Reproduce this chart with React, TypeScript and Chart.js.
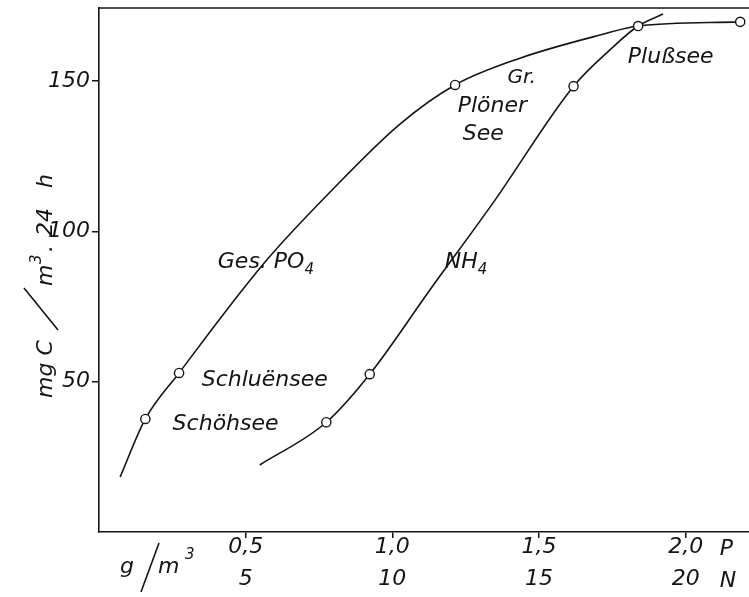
import React, { useEffect, useRef } from 'react';
import { Chart, registerables } from 'chart.js';
Chart.register(...registerables);

const INK = '#141414';
const FAM = '"DejaVu Sans", "Liberation Sans", sans-serif';

// ---- axis ticks ----
const yTickValues = [50, 100, 150];
const xTickValues = [0.5, 1.0, 1.5, 2.0];
const xTickLabelsP = ['0,5', '1,0', '1,5', '2,0'];
const xTickLabelsN = ['5', '10', '15', '20'];

// ---- measured lakes (g/m3 P resp. N/10 ; mg C / m3 . 24 h) ----
const lakes = ['Schöhsee', 'Schluënsee', 'Gr. Plöner See', 'Plußsee'];
const po4Conc = [0.158, 0.273, 1.214, 2.186];
const po4Prod = [37.6, 52.9, 148.7, 169.7];
const nh4Conc = [0.775, 0.923, 1.618, 1.838];
const nh4Prod = [36.5, 52.5, 148.3, 168.3];

// ---- hand-drawn curves ----
const po4CurveX = [0.072, 0.158, 0.273, 0.566, 0.788, 1.026, 1.214, 1.435, 1.708, 1.838, 2.186];
const po4CurveY = [18.3, 37.6, 52.9, 89.8, 113.1, 135.7, 148.7, 157.6, 165.3, 168.3, 169.7];
const nh4CurveX = [0.548, 0.775, 0.923, 1.128, 1.35, 1.618, 1.741, 1.838, 1.923];
const nh4CurveY = [22.3, 36.5, 52.5, 80.5, 110.4, 148.3, 160.3, 168.3, 172.3];

const pts = (xs: number[], ys: number[]) => xs.map((x, i) => ({ x, y: ys[i] }));

const font = (size: number) => `italic ${size}px ${FAM}`;

const figurePlugin = {
  id: 'figure',
  afterDraw(chart: any) {
    const { ctx, chartArea, scales } = chart;
    const xs = scales.x;
    const ys = scales.y;
    const px = (v: number) => xs.getPixelForValue(v);
    const py = (v: number) => ys.getPixelForValue(v);
    ctx.save();
    ctx.strokeStyle = INK;
    ctx.fillStyle = INK;
    ctx.lineWidth = 1.6;
    // top frame line
    ctx.beginPath();
    ctx.moveTo(chartArea.left, chartArea.top);
    ctx.lineTo(chartArea.right, chartArea.top);
    ctx.stroke();

    ctx.textBaseline = 'alphabetic';
    ctx.textAlign = 'left';
    // lake labels (anchor = left/baseline in data coords)
    const lab = (t: string, x: number, y: number, size = 22) => {
      ctx.font = font(size);
      ctx.fillText(t, px(x), py(y));
    };
    lab(lakes[0], 0.251, 33.9);
    lab(lakes[1], 0.35, 48.6);
    lab('Gr.', 1.393, 149.3, 20);
    lab('Plöner', 1.223, 139.7);
    lab('See', 1.24, 130.4);
    lab(lakes[3], 1.803, 156.0);

    // series labels with subscripts
    const sub = (main: string, s: string, x: number, y: number) => {
      ctx.font = font(22);
      const X = px(x), Y = py(y);
      ctx.fillText(main, X, Y);
      const w = ctx.measureText(main).width;
      ctx.font = font(15);
      ctx.fillText(s, X + w, Y + 6);
    };
    sub('Ges. PO', '4', 0.405, 87.8);
    sub('NH', '4', 1.179, 87.8);

    // x-axis unit annotations
    const row1 = chartArea.bottom + 17;
    const row2 = row1 + 32;
    ctx.font = font(22);
    ctx.textBaseline = 'middle';
    ctx.fillText('P', px(2.0) + 34, row1);
    ctx.fillText('N', px(2.0) + 34, row2);
    // g / m3
    ctx.textBaseline = 'alphabetic';
    ctx.fillText('g', 120, 573);
    ctx.beginPath();
    ctx.moveTo(141, 592);
    ctx.lineTo(159, 543);
    ctx.stroke();
    ctx.fillText('m', 158, 573);
    ctx.font = font(15);
    ctx.fillText('3', 185, 559);

    // y-axis title, rotated
    ctx.save();
    ctx.translate(52, 398);
    ctx.rotate(-Math.PI / 2);
    ctx.font = font(22);
    ctx.fillText('mg C', 0, 0);
    ctx.beginPath();
    ctx.moveTo(68, 6);
    ctx.lineTo(110, -28);
    ctx.stroke();
    ctx.fillText('m', 112, 0);
    ctx.font = font(15);
    ctx.fillText('3', 134, -11);
    ctx.font = font(22);
    ctx.fillText('.', 146, 0);
    ctx.fillText('24', 162, 0);
    ctx.fillText('h', 210, 0);
    ctx.restore();

    ctx.restore();
  },
};

const zeroPad = (s: any) => {
  s.paddingTop = 0;
  s.paddingBottom = 0;
  s.paddingLeft = 0;
  s.paddingRight = 0;
};

export default function App() {
  const ref = useRef<HTMLCanvasElement>(null);
  useEffect(() => {
    const chart = new Chart(ref.current!, {
      type: 'scatter',
      data: {
        datasets: [
          {
            label: 'Ges. PO4 points',
            data: pts(po4Conc, po4Prod),
            pointRadius: 4.6,
            pointBackgroundColor: '#ffffff',
            pointBorderColor: INK,
            pointBorderWidth: 1.4,
            showLine: false,
            clip: false,
            order: 1,
          },
          {
            label: 'NH4 points',
            data: pts(nh4Conc, nh4Prod),
            pointRadius: 4.6,
            pointBackgroundColor: '#ffffff',
            pointBorderColor: INK,
            pointBorderWidth: 1.4,
            showLine: false,
            clip: false,
            order: 1,
          },
          {
            label: 'Ges. PO4',
            data: pts(po4CurveX, po4CurveY),
            showLine: true,
            pointRadius: 0,
            borderColor: INK,
            borderWidth: 1.6,
            cubicInterpolationMode: 'monotone',
            order: 2,
          } as any,
          {
            label: 'NH4',
            data: pts(nh4CurveX, nh4CurveY),
            showLine: true,
            pointRadius: 0,
            borderColor: INK,
            borderWidth: 1.6,
            cubicInterpolationMode: 'monotone',
            order: 2,
          } as any,
        ],
      },
      options: {
        responsive: false,
        animation: false,
        layout: { autoPadding: false, padding: { top: 8, right: 0, left: 0, bottom: 0 } },
        plugins: { legend: { display: false }, tooltip: { enabled: false } },
        scales: {
          x: {
            type: 'linear',
            min: 0,
            max: 2.216,
            afterBuildTicks: (s: any) => {
              s.ticks = xTickValues.map((v) => ({ value: v }));
            },
            afterFit: (s: any) => {
              s.height = 65;
              zeroPad(s);
            },
            grid: { drawOnChartArea: false, drawTicks: true, tickLength: 6, color: INK, lineWidth: 1.5 },
            border: { display: true, color: INK, width: 1.6 },
            ticks: {
              color: INK,
              padding: -7,
              maxRotation: 0,
              autoSkip: false,
              font: { family: FAM, size: 22, style: 'italic', lineHeight: 1.45 },
              callback: (_v: any, i: number) => [xTickLabelsP[i], xTickLabelsN[i]],
            },
          },
          y: {
            type: 'linear',
            min: 0,
            max: 174.3,
            afterBuildTicks: (s: any) => {
              s.ticks = yTickValues.map((v) => ({ value: v }));
            },
            afterFit: (s: any) => {
              s.width = 99;
              zeroPad(s);
            },
            grid: { drawOnChartArea: false, drawTicks: true, tickLength: 7, color: INK, lineWidth: 1.5 },
            border: { display: true, color: INK, width: 1.6 },
            ticks: {
              color: INK,
              padding: 2,
              font: { family: FAM, size: 22, style: 'italic' },
              callback: (v: any) => String(v),
            },
          },
        },
      },
      plugins: [figurePlugin],
    } as any);
    return () => chart.destroy();
  }, []);
  return (
    <div style={{ position: 'absolute', left: 0, top: 0, width: 749, height: 597, background: '#fff' }}>
      <canvas ref={ref} width={749} height={597} style={{ display: 'block' }} />
    </div>
  );
}
